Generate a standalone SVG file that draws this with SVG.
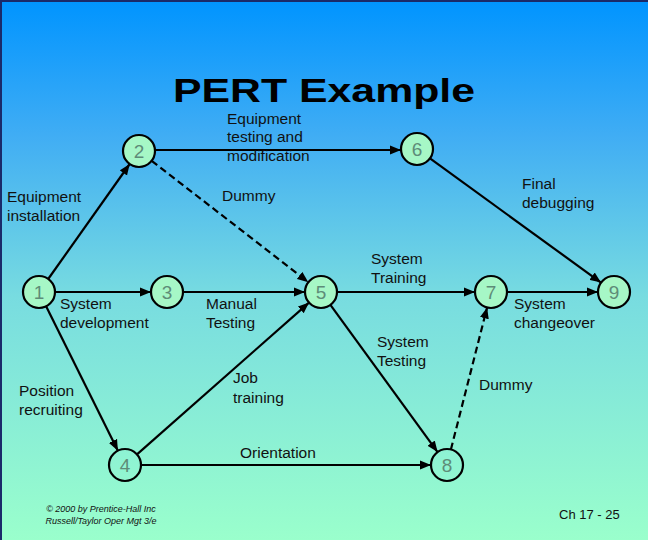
<svg xmlns="http://www.w3.org/2000/svg" width="648" height="540" viewBox="0 0 648 540">
<defs>
<linearGradient id="bg" x1="0" y1="0" x2="0" y2="1">
<stop offset="0" stop-color="#0094FF"/>
<stop offset="0.25" stop-color="#40ADF4"/>
<stop offset="0.55" stop-color="#78DCE0"/>
<stop offset="1" stop-color="#9AFFCC"/>
</linearGradient>
<marker id="ah" markerUnits="userSpaceOnUse" markerWidth="12" markerHeight="10" viewBox="0 0 12 10" refX="11" refY="5" orient="auto">
<path d="M0,0.5 L11,5 L0,9.5 Z" fill="#000"/>
</marker>
<style>
.e{stroke:#000;stroke-width:2.2;fill:none;marker-end:url(#ah)}
.d{stroke-dasharray:7 4}
.n{stroke:#000;stroke-width:2.2;fill:#A6F7C6}
.h{fill:none}
.num{font-family:"Liberation Sans",Arial,sans-serif;font-size:19px;fill:#5E8C78;text-anchor:middle}
.lb{font-family:"Liberation Sans",Arial,sans-serif;font-size:15.5px;fill:#111}
.t{font-family:"Liberation Sans",Arial,sans-serif;font-weight:bold;font-size:34px;fill:#000}
.c{font-family:"Liberation Sans",Arial,sans-serif;font-style:italic;font-size:9px;fill:#111}
</style>
</defs>
<rect width="648" height="540" fill="url(#bg)"/>
<path d="M0,1 H648 M1,0 V540" stroke="#1a2a6a" stroke-width="2"/>
<text class="t" x="173" y="102" textLength="302" lengthAdjust="spacingAndGlyphs">PERT Example</text>
<g id="connectors">
<line class="e" x1="48.2" y1="279" x2="129.7" y2="164"/>
<line class="e" x1="55" y1="292" x2="151" y2="292"/>
<line class="e" x1="46.1" y1="306.3" x2="117.9" y2="450.7"/>
<line class="e" x1="155" y1="150" x2="401" y2="150"/>
<line class="e d" x1="151.7" y1="160.8" x2="308.3" y2="282.2"/>
<line class="e" x1="183" y1="292" x2="305" y2="292"/>
<line class="e" x1="137" y1="454.4" x2="309" y2="302.6"/>
<line class="e" x1="141" y1="465" x2="431" y2="465"/>
<line class="e" x1="337" y1="292" x2="475" y2="292"/>
<line class="e" x1="330.4" y1="304.9" x2="437.6" y2="452.1"/>
<line class="e" x1="430" y1="158.4" x2="601" y2="282.6"/>
<line class="e" x1="507" y1="292" x2="598" y2="292"/>
<line class="e d" x1="450.9" y1="449.5" x2="487.1" y2="307.5"/>
</g>
<g id="labels">
<text class="lb" x="7" y="202">Equipment</text>
<text class="lb" x="7" y="221">installation</text>
<text class="lb" x="227" y="124">Equipment</text>
<text class="lb" x="227" y="142">testing and</text>
<text class="lb" x="227" y="161">modification</text>
<text class="lb" x="222" y="201">Dummy</text>
<text class="lb" x="522" y="189">Final</text>
<text class="lb" x="522" y="208">debugging</text>
<text class="lb" x="371" y="264">System</text>
<text class="lb" x="371" y="283">Training</text>
<text class="lb" x="60" y="309">System</text>
<text class="lb" x="60" y="328">development</text>
<text class="lb" x="206" y="309">Manual</text>
<text class="lb" x="206" y="328">Testing</text>
<text class="lb" x="514" y="309">System</text>
<text class="lb" x="514" y="328">changeover</text>
<text class="lb" x="377" y="347">System</text>
<text class="lb" x="377" y="366">Testing</text>
<text class="lb" x="479" y="390">Dummy</text>
<text class="lb" x="19" y="396">Position</text>
<text class="lb" x="19" y="415">recruiting</text>
<text class="lb" x="233" y="383">Job</text>
<text class="lb" x="233" y="403">training</text>
<text class="lb" x="240" y="458">Orientation</text>
</g>
<g id="node1"><circle class="n" cx="39" cy="292" r="16"/><text class="num" x="39" y="299">1</text></g>
<g id="node2"><circle class="n" cx="139" cy="151" r="16"/><text class="num" x="139" y="158">2</text></g>
<g id="node3"><circle class="n" cx="167" cy="292" r="16"/><text class="num" x="167" y="299">3</text></g>
<g id="node4"><circle class="n h" cx="125" cy="465" r="16"/><text class="num" x="125" y="472">4</text></g>
<g id="node5"><circle class="n" cx="321" cy="292" r="16"/><text class="num" x="321" y="299">5</text></g>
<g id="node6"><circle class="n" cx="417" cy="149" r="16"/><text class="num" x="417" y="156">6</text></g>
<g id="node7"><circle class="n" cx="491" cy="292" r="16"/><text class="num" x="491" y="299">7</text></g>
<g id="node8"><circle class="n h" cx="447" cy="465" r="16"/><text class="num" x="447" y="472">8</text></g>
<g id="node9"><circle class="n" cx="614" cy="292" r="16"/><text class="num" x="614" y="299">9</text></g>
<text class="c" x="101" y="512" text-anchor="middle">© 2000 by Prentice-Hall Inc</text>
<text class="c" x="101" y="524" text-anchor="middle">Russell/Taylor  Oper Mgt 3/e</text>
<text x="559" y="519" font-family="Liberation Sans, Arial, sans-serif" font-size="13" fill="#111">Ch 17 - 25</text>
</svg>
